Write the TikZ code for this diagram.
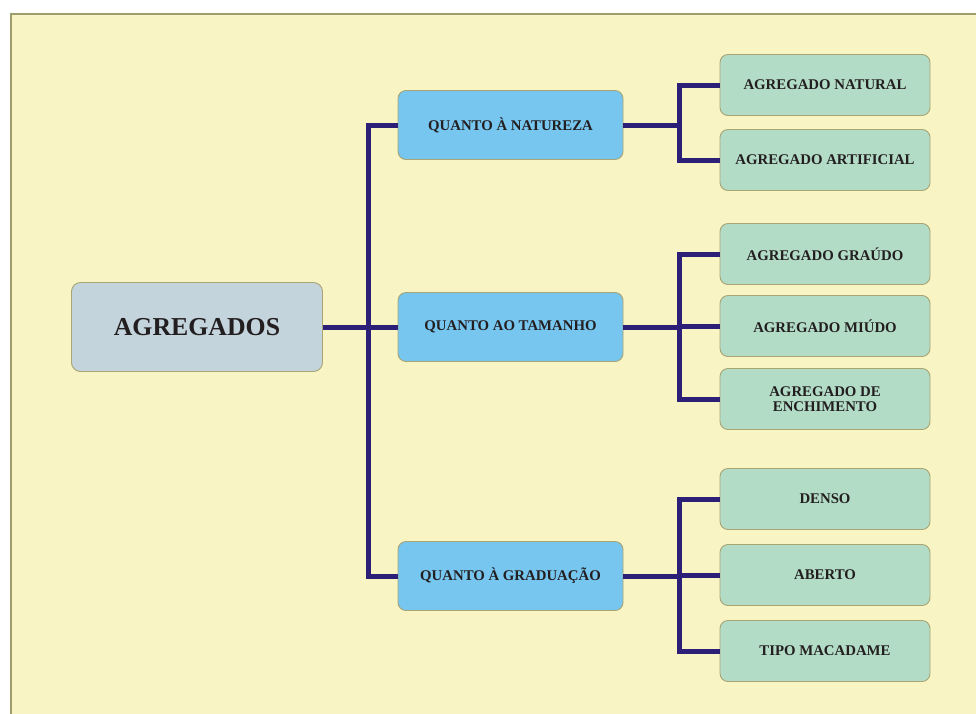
\documentclass[tikz,border=0pt]{standalone}
\usepackage{fontspec}
\setmainfont{Liberation Serif}
\usepackage{tikz}

\definecolor{papel}{HTML}{F8F4C3}
\definecolor{moldura}{HTML}{9E9E6C}
\definecolor{caixa}{HTML}{A8A474}
\definecolor{raiz}{HTML}{C4D4DC}
\definecolor{grupo}{HTML}{76C6F0}
\definecolor{folha}{HTML}{B3DCC7}
\definecolor{traco}{HTML}{2B1F78}
\definecolor{letra}{HTML}{231F20}

\tikzset{
	raizbox/.style={draw=caixa, fill=raiz, rounded corners=9pt, line width=0.9pt,
		minimum width=251pt, minimum height=89pt, text=letra,
		font=\fontsize{25.8}{28}\selectfont\bfseries},
	grupobox/.style={draw=caixa, fill=grupo, rounded corners=8pt, line width=0.9pt,
		minimum width=225pt, minimum height=69pt, text=letra,
		font=\fontsize{14.8}{15}\selectfont\bfseries},
	folhabox/.style={draw=caixa, fill=folha, rounded corners=8pt, line width=0.9pt,
		minimum width=210pt, minimum height=61pt, text=letra, align=center,
		font=\fontsize{14.8}{15}\selectfont\bfseries},
	ligacao/.style={draw=traco, line width=5pt, line join=miter}
}

\begin{document}
\begin{tikzpicture}[x=1pt, y=-1pt]
	\useasboundingbox (0,0) rectangle (976,713);
	\fill[white] (0,0) rectangle (976,713);
	\begin{scope}
		\clip (0,0) rectangle (976,713);
		\draw[moldura, fill=papel, line width=2.4pt] (11,14) rectangle (990,730);
	\end{scope}

	% raiz e grupos
	\node[raizbox] (agregados) at (197,327) {AGREGADOS};
	\node[grupobox] (natureza) at (510.5,125) {QUANTO \`A NATUREZA};
	\node[grupobox] (tamanho) at (510.5,327) {QUANTO AO TAMANHO};
	\node[grupobox] (graduacao) at (510.5,576) {QUANTO \`A GRADUA\c{C}\~AO};

	% folhas
	\node[folhabox] (natural) at (825,85) {AGREGADO NATURAL};
	\node[folhabox] (artificial) at (825,160) {AGREGADO ARTIFICIAL};
	\node[folhabox] (graudo) at (825,254) {AGREGADO GRA\'UDO};
	\node[folhabox] (miudo) at (825,326) {AGREGADO MI\'UDO};
	\node[folhabox] (enchimento) at (825,399) {AGREGADO DE\\ENCHIMENTO};
	\node[folhabox] (denso) at (825,499) {DENSO};
	\node[folhabox] (aberto) at (825,575) {ABERTO};
	\node[folhabox] (macadame) at (825,651) {TIPO MACADAME};

	% ligacoes
	\coordinate (tronco) at (368,327);
	\draw[ligacao] (natureza.west) -| (tronco) |- (graduacao.west);
	\draw[ligacao] (agregados.east) -- (tamanho.west);
	\foreach \g/\f in {natureza/natural, natureza/artificial,
		tamanho/graudo, tamanho/miudo, tamanho/enchimento,
		graduacao/denso, graduacao/aberto, graduacao/macadame}
		\draw[ligacao] (\g.east) -- ++(56,0) |- (\f.west);
\end{tikzpicture}
\end{document}
